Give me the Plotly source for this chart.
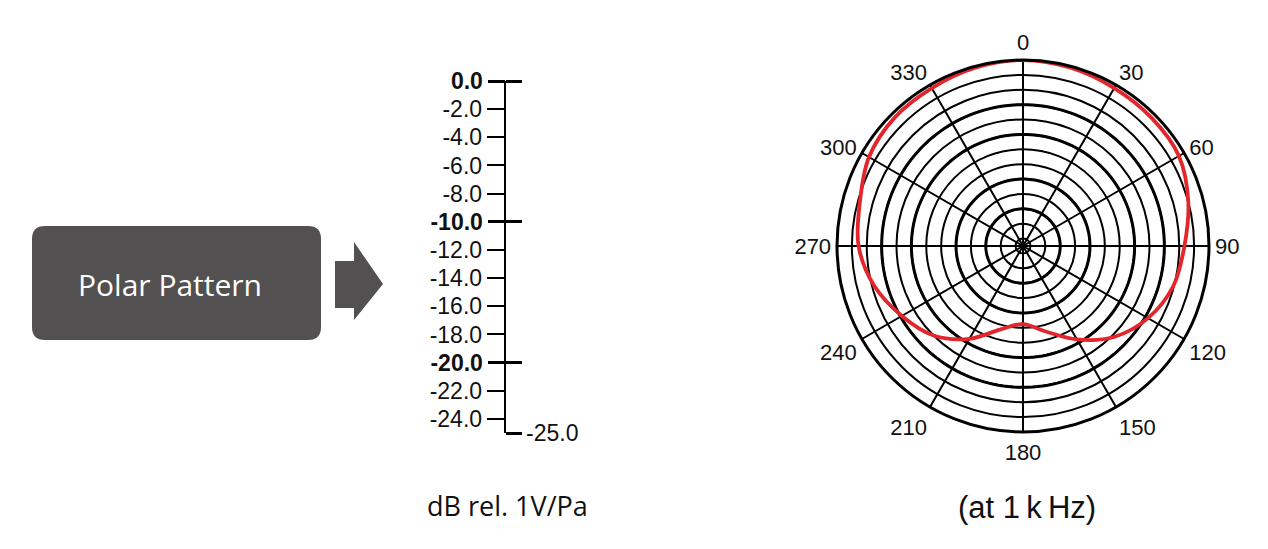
import plotly.graph_objects as go

# ---- data ----
pattern_angle = [0, 15, 30, 45, 60, 75, 90, 105, 120, 135, 150, 165, 180,
                 195, 210, 225, 240, 255, 270, 285, 300, 315, 330, 345, 360]
pattern_db = [0.0, -0.2, -0.5, -0.6, -0.8, -2.0, -3.3, -4.1, -5.6, -7.7, -10.5, -13.1, -14.5,
              -13.4, -10.6, -8.0, -6.2, -4.3, -2.9, -2.3, -1.1, -0.6, -0.5, -0.2, 0.0]

ring_db = [-24, -22, -20, -18, -16, -14, -12, -10, -8, -6, -4, -2, 0]
bold_ring_db = [-6, -10, -16, -20]
angle_ticks = [0, 30, 60, 90, 120, 150, 180, 210, 240, 270, 300, 330]
angle_labels = ["0", "30", "60", "90", "120", "150", "180", "210", "240", "270", "300", "330"]

scale_minor = [-2, -4, -6, -8, -12, -14, -16, -18, -22, -24]
scale_minor_labels = ["-2.0", "-4.0", "-6.0", "-8.0", "-12.0", "-14.0", "-16.0", "-18.0", "-22.0", "-24.0"]
scale_major = [0, -10, -20]
scale_major_labels = ["<b>0.0</b>", "<b>-10.0</b>", "<b>-20.0</b>"]
scale_right = [0, -10, -20, -25]
scale_right_labels = ["", "", "", "-25.0"]
scale_range = [-25, 0]

W, H = 1268, 549
OFF = 8  # page body margin


def px(x):
    return (x - OFF) / W


def py(y):
    return 1 - (y - OFF) / H


fig = go.Figure()

# bold rings
ring_theta = list(range(0, 361, 2))
for rb in bold_ring_db:
    fig.add_trace(go.Scatterpolar(r=[rb] * len(ring_theta), theta=ring_theta, mode="lines",
                                  line=dict(color="black", width=3), hoverinfo="skip",
                                  showlegend=False))

# pattern curve
fig.add_trace(go.Scatterpolar(r=pattern_db, theta=pattern_angle, mode="lines",
                              line=dict(color="#e3262c", width=3.8, shape="spline"),
                              showlegend=False, hoverinfo="skip"))

# invisible traces to hold the dB scale axes
for ya in ["y", "y2", "y3"]:
    fig.add_trace(go.Scatter(x=[0, 0], y=scale_range, xaxis="x", yaxis=ya, mode="markers",
                             marker=dict(opacity=0), hoverinfo="skip", showlegend=False))

tick_font = dict(family="Liberation Sans, Arial", size=23, color="#111")
ang_font = dict(family="Liberation Sans, Arial", size=22, color="#111")

# center of polar: (1023, 246), radius 186
cx, cy, R = 1023, 246, 186
fig.update_layout(
    width=W, height=H,
    margin=dict(l=0, r=0, t=0, b=0, autoexpand=False),
    paper_bgcolor="white", plot_bgcolor="white",
    showlegend=False,
    polar=dict(
        domain=dict(x=[px(cx - R), px(cx + R)], y=[py(cy + R), py(cy - R)]),
        bgcolor="white",
        angularaxis=dict(rotation=90, direction="clockwise", tickmode="array",
                         tickvals=angle_ticks, ticktext=angle_labels,
                         showline=True, linecolor="black", linewidth=3,
                         gridcolor="black", gridwidth=1.8, ticks="",
                         tickfont=ang_font),
        radialaxis=dict(range=scale_range, tickmode="array", tickvals=ring_db,
                        showticklabels=False, ticks="", showline=False,
                        gridcolor="black", gridwidth=2),
    ),
    xaxis=dict(domain=[px(505), px(560)], visible=False, range=[0, 1]),
    yaxis=dict(domain=[py(433), py(81)], range=scale_range, anchor="free", position=px(504.5),
               tickmode="array", tickvals=scale_minor, ticktext=scale_minor_labels,
               ticks="outside", ticklen=17, tickwidth=1.5, tickcolor="black",
               showline=True, linecolor="black", linewidth=1.6, showgrid=False, zeroline=False,
               tickfont=tick_font),
    yaxis2=dict(domain=[py(433), py(81)], range=scale_range, overlaying="y", anchor="free",
                position=px(504.5), tickmode="array", tickvals=scale_major,
                ticktext=scale_major_labels, ticks="outside", ticklen=17, tickwidth=3,
                tickcolor="black", showline=False, showgrid=False, zeroline=False,
                tickfont=tick_font),
    yaxis3=dict(domain=[py(433), py(81)], range=scale_range, overlaying="y", anchor="free",
                side="right", position=px(504.5), tickmode="array", tickvals=scale_right,
                ticktext=scale_right_labels, ticks="outside", ticklen=16, tickwidth=3,
                tickcolor="black", showline=False, showgrid=False, zeroline=False,
                tickfont=tick_font),
)

# Polar Pattern box (rounded rect)
x0, x1, y0, y1, rr = 32, 321, 226, 340, 13
path = (f"M {px(x0 + rr)},{py(y0)} L {px(x1 - rr)},{py(y0)} Q {px(x1)},{py(y0)} {px(x1)},{py(y0 + rr)} "
        f"L {px(x1)},{py(y1 - rr)} Q {px(x1)},{py(y1)} {px(x1 - rr)},{py(y1)} "
        f"L {px(x0 + rr)},{py(y1)} Q {px(x0)},{py(y1)} {px(x0)},{py(y1 - rr)} "
        f"L {px(x0)},{py(y0 + rr)} Q {px(x0)},{py(y0)} {px(x0 + rr)},{py(y0)} Z")
fig.add_shape(type="path", path=path, xref="paper", yref="paper",
              fillcolor="#525051", line=dict(width=0), layer="below")

# Arrow
arrow = (f"M {px(335)},{py(261)} L {px(354)},{py(261)} L {px(354)},{py(242)} L {px(383)},{py(284)} "
         f"L {px(354)},{py(320)} L {px(354)},{py(308)} L {px(335)},{py(308)} Z")
fig.add_shape(type="path", path=arrow, xref="paper", yref="paper",
              fillcolor="#525051", line=dict(width=0), layer="below")

fig.add_annotation(x=px(170), y=py(284), xref="paper", yref="paper", text="Polar Pattern",
                   xanchor="center", yanchor="middle",
                   showarrow=False, font=dict(family="Open Sans", size=30, color="white"))
fig.add_annotation(x=px(507), y=py(505), xref="paper", yref="paper", text="dB rel. 1V/Pa",
                   xanchor="center", yanchor="middle",
                   showarrow=False, font=dict(family="Open Sans", size=27, color="#111"))
fig.add_annotation(x=px(1027), y=py(507), xref="paper", yref="paper",
                   text="(at 1\u2009k\u2009Hz)", xanchor="center", yanchor="middle",
                   showarrow=False, font=dict(family="Liberation Sans, Arial", size=31, color="#111"))

fig.write_html("out.html")
